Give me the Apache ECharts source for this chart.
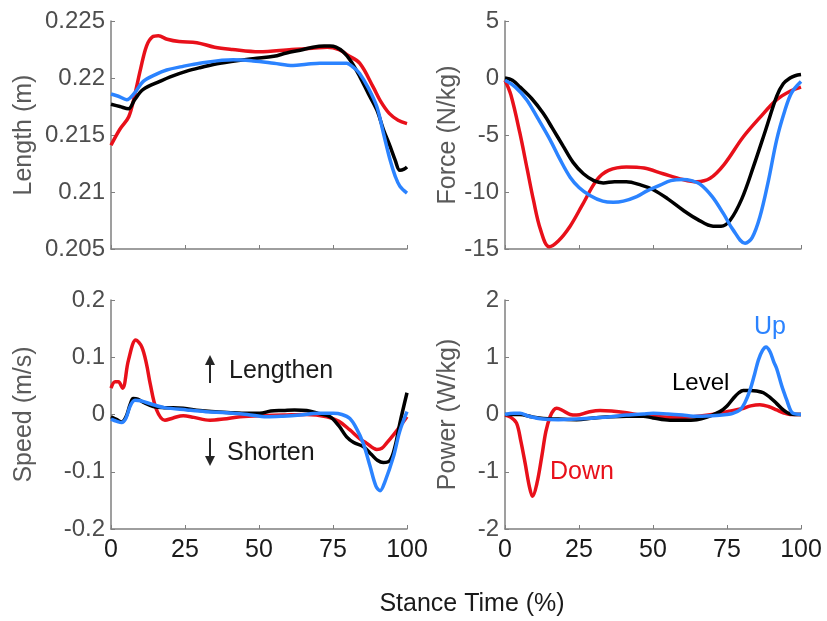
<!DOCTYPE html>
<html><head><meta charset="utf-8">
<script src="https://cdn.jsdelivr.net/npm/echarts@6/dist/echarts.min.js"></script>
<style>html,body{margin:0;padding:0;background:#fff}#c{width:827px;height:621px}</style>
</head><body><div id="c"></div>
<script>
// ---- data ----
const xTicks = [0, 25, 50, 75, 100];
const panelTitles = ['Length (m)', 'Force (N/kg)', 'Speed (m/s)', 'Power (W/kg)'];
const groupNames = ['Down', 'Level', 'Up'];

const lengthDown = [[0,0.2141],[3,0.2155],[6,0.2166],[8,0.2185],[10,0.2208],[12,0.2228],[14,0.2236],[16,0.2237],[19,0.2234],[23,0.2232],[29,0.2231],[35,0.2227],[41,0.2225],[50,0.2223],[61,0.2225],[68,0.2226],[73,0.2227],[77,0.2225],[80,0.2220],[84,0.2213],[88.6,0.2192],[91,0.2180],[94,0.2169],[97,0.2163],[100,0.2160]];
const lengthLevel = [[0,0.2177],[3,0.2175],[5.9,0.2173],[8,0.2181],[10.9,0.2190],[16.5,0.2197],[20,0.2201],[25.6,0.2206],[30,0.2209],[36.8,0.2213],[48,0.2217],[55,0.2219],[59.3,0.2222],[65,0.2225],[68.2,0.2227],[72,0.2228],[74,0.2228],[76,0.2227],[78.4,0.2223],[81,0.2215],[84.1,0.2201],[87,0.2186],[89.8,0.2172],[92,0.2155],[94.3,0.2140],[96,0.2128],[97.6,0.2119],[99,0.2120],[100,0.2122]];
const lengthUp = [[0,0.2186],[2.5,0.2184],[5.3,0.2181],[8,0.2187],[10.9,0.2197],[15,0.2203],[18.8,0.2207],[24,0.2210],[30,0.2213],[41.3,0.2216],[48,0.2215],[55,0.2213],[61.5,0.2211],[66,0.2212],[70.6,0.2213],[76,0.2213],[79.6,0.2213],[82,0.2209],[84,0.2204],[87,0.2191],[89.8,0.2175],[92,0.2152],[94.3,0.2128],[96,0.2114],[97.6,0.2105],[100,0.2099]];

const forceDown = [[0,-0.2],[2,-1.5],[5,-4.8],[7.5,-8],[9.6,-10.7],[12,-13.3],[14.9,-14.8],[18,-14.3],[22,-13.0],[26,-11.2],[31,-8.95],[35,-8.1],[41,-7.8],[47,-7.9],[53.4,-8.4],[60,-8.9],[64.8,-9.1],[69.3,-8.8],[74,-7.6],[80.4,-5.2],[86,-3.5],[91.8,-1.9],[96,-1.2],[100,-0.8]];
const forceLevel = [[0,0],[2.5,-0.2],[5.1,-0.8],[9,-1.8],[12.9,-3.1],[16,-4.4],[19.7,-6.0],[23,-7.4],[26.5,-8.4],[30,-9.0],[33.2,-9.2],[37,-9.1],[41,-9.1],[46,-9.4],[50.1,-9.8],[55,-10.6],[60.2,-11.6],[65,-12.4],[70.3,-13.0],[73,-13.0],[76,-12.5],[80,-10.6],[83.9,-7.8],[88,-4.6],[91.8,-1.6],[94,-0.5],[96.3,0],[98,0.2],[100,0.3]];
const forceUp = [[0,-0.2],[3.5,-0.8],[7.3,-1.9],[11,-3.5],[15.2,-5.4],[18.5,-7.1],[22,-8.7],[25,-9.6],[28.7,-10.3],[33,-10.8],[36.6,-10.9],[40,-10.8],[44.5,-10.4],[48,-9.9],[52.4,-9.4],[56,-9.0],[60.2,-8.9],[63,-9.0],[65.9,-9.3],[70,-10.4],[73.8,-11.9],[77,-13.3],[81.1,-14.5],[83.5,-14.0],[86.1,-12.2],[89,-9.0],[91.8,-5.4],[94.5,-2.9],[96.8,-1.3],[100,-0.3]];

const speedDown = [[0,0.046],[1.4,0.057],[2.5,0.057],[3.9,0.046],[5.9,0.095],[8.4,0.130],[10.4,0.118],[12,0.088],[13.2,0.055],[15.4,0.008],[18.2,-0.010],[21,-0.006],[24.4,-0.002],[28,-0.005],[33.4,-0.010],[38,-0.008],[43.6,-0.004],[50,-0.002],[58.2,-0.001],[66,0.0],[72.9,-0.004],[77,-0.012],[80.7,-0.027],[84,-0.042],[86.3,-0.050],[89.8,-0.061],[91.5,-0.059],[93.1,-0.050],[95.5,-0.035],[97.6,-0.021],[100,-0.004]];
const speedLevel = [[0,-0.004],[2,-0.009],[3.6,-0.013],[5,-0.005],[6.5,0.018],[7.5,0.028],[9,0.027],[11,0.021],[14.3,0.014],[18,0.012],[24.4,0.011],[30,0.007],[41.3,0.003],[46,0.002],[50.3,0.002],[54,0.006],[58.2,0.007],[62,0.008],[66.1,0.007],[70,0.002],[74,-0.004],[77,-0.020],[79.6,-0.039],[82,-0.049],[85.2,-0.056],[88,-0.070],[90,-0.080],[92,-0.084],[94.3,-0.080],[96,-0.055],[97.6,-0.015],[100,0.038]];
const speedUp = [[0,-0.008],[2,-0.012],[3.6,-0.014],[5,-0.007],[6.5,0.015],[8.1,0.025],[10,0.024],[14.3,0.017],[18,0.012],[25.6,0.008],[32,0.005],[39.1,0.003],[46,0.0],[52.6,-0.004],[58,-0.003],[63.9,-0.001],[70,0.002],[75.1,0.002],[78,0.0],[80.7,-0.007],[83,-0.025],[85.2,-0.050],[87.5,-0.090],[89.5,-0.125],[90.9,-0.133],[92.5,-0.118],[95.4,-0.074],[97.5,-0.030],[100,0.005]];

const powerDown = [[0,-0.01],[2,-0.05],[3.9,-0.15],[5.3,-0.45],[6.8,-0.85],[8.2,-1.25],[9.3,-1.43],[10.8,-1.2],[12.4,-0.74],[13.8,-0.3],[15.2,-0.04],[16.5,0.08],[17.5,0.11],[19.5,0.07],[22,0.0],[24.2,-0.01],[28,0.04],[32.1,0.07],[36,0.06],[41.1,0.03],[46,-0.01],[52.4,-0.04],[58,-0.05],[63.6,-0.04],[70,0.0],[74.9,0.05],[80,0.1],[83,0.15],[86.1,0.17],[89,0.14],[91.8,0.08],[94,0.03],[96.3,0.0],[100,0.0]];
const powerLevel = [[0,0],[5,0],[9,-0.04],[12.9,-0.07],[18,-0.08],[24.2,-0.09],[30,-0.06],[35.5,-0.04],[41,-0.03],[46.7,-0.03],[50,-0.06],[55.7,-0.1],[60,-0.1],[64.8,-0.09],[68,-0.05],[72.6,0.05],[75,0.15],[77.1,0.28],[79,0.38],[80.5,0.42],[83,0.42],[85,0.41],[87.3,0.38],[89.5,0.3],[91.8,0.19],[94,0.08],[96.3,0.01],[100,0]];
const powerUp = [[0,0],[3,0.02],[5.1,0.02],[8,-0.03],[12.9,-0.08],[18,-0.09],[24.2,-0.08],[30,-0.06],[35.5,-0.04],[41,-0.01],[46.7,0.01],[50.1,0.02],[55,0.01],[60,-0.01],[63.6,-0.03],[70,-0.02],[74.9,0.0],[77,0.02],[79.4,0.08],[81,0.2],[82.8,0.43],[84.3,0.7],[85.6,0.95],[87,1.12],[88.2,1.18],[89.5,1.1],[90.8,0.92],[91.8,0.8],[93.5,0.5],[95.2,0.25],[96.5,0.07],[97.4,0.02],[100,0]];

const yRanges = [[0.205, 0.225, 0.005], [-15, 5, 5], [-0.2, 0.2, 0.1], [-2, 2, 1]];

// ---- chart ----
const FONT = "'Liberation Sans', Arial, sans-serif";
const colors = ['#E8101A', '#000000', '#2B83FF'];
const panels = [
  [lengthDown, lengthLevel, lengthUp],
  [forceDown, forceLevel, forceUp],
  [speedDown, speedLevel, speedUp],
  [powerDown, powerLevel, powerUp]
];
const grids = [
  {left: 111, top: 21, width: 296, height: 228},
  {left: 505, top: 21, width: 296, height: 228},
  {left: 111, top: 300, width: 296, height: 229},
  {left: 505, top: 300, width: 296, height: 229}
];
const nameGaps = [74, 42, 74, 44];
const axisColor = '#7f7f7f';

const xAxis = grids.map((g, i) => ({
  type: 'value', gridIndex: i, min: xTicks[0], max: xTicks[xTicks.length - 1], interval: 25,
  axisLine: {onZero: false, lineStyle: {color: axisColor, width: 1.5}},
  axisTick: {inside: true, length: 4, lineStyle: {color: axisColor}},
  axisLabel: {show: i >= 2, color: '#1a1a1a', fontSize: 25, fontFamily: FONT, margin: 9},
  splitLine: {show: false}
}));
const yAxis = grids.map((g, i) => ({
  type: 'value', gridIndex: i, min: yRanges[i][0], max: yRanges[i][1], interval: yRanges[i][2],
  name: panelTitles[i], nameLocation: 'middle', nameGap: nameGaps[i],
  nameTextStyle: {color: '#5a5a5a', fontSize: 25, fontFamily: FONT},
  axisLine: {show: true, onZero: false, lineStyle: {color: axisColor, width: 1.5}},
  axisTick: {show: true, inside: true, length: 4, lineStyle: {color: axisColor}},
  axisLabel: {color: '#4d4d4d', fontSize: 24, fontFamily: FONT, margin: 6,
    formatter: v => String(parseFloat(v.toFixed(3)))},
  splitLine: {show: false}
}));
const series = [];
panels.forEach((p, i) => {
  p.forEach((d, k) => {
    series.push({
      type: 'line', name: groupNames[k], xAxisIndex: i, yAxisIndex: i, data: d,
      smooth: 0.35, showSymbol: false, symbol: 'none',
      lineStyle: {color: colors[k], width: 3.5}, z: 2 + k
    });
  });
});

const txt = (x, y, s, color, size, align) => ({
  type: 'text', x: x, y: y,
  style: {text: s, fill: color, font: size + 'px ' + FONT, textAlign: align || 'left', textVerticalAlign: 'middle'}
});
// vertical arrow: tip at y1, tail at y2
const arrow = (x, y1, y2) => {
  const dir = y2 > y1 ? 1 : -1;
  return {
    type: 'group', children: [
      {type: 'line', shape: {x1: x, y1: y1 + dir * 4, x2: x, y2: y2}, style: {stroke: '#262626', lineWidth: 2}},
      {type: 'polygon', shape: {points: [[x, y1], [x - 5, y1 + dir * 10], [x + 5, y1 + dir * 10]]}, style: {fill: '#262626'}}
    ]
  };
};

const chart = echarts.init(document.getElementById('c'), null, {renderer: 'canvas'});
chart.setOption({
  animation: false,
  backgroundColor: '#fff',
  grid: grids,
  xAxis: xAxis,
  yAxis: yAxis,
  series: series,
  graphic: [
    txt(472, 604, 'Stance Time (%)', '#1a1a1a', 25, 'center'),
    arrow(210, 355, 383),
    txt(229, 371, 'Lengthen', '#1a1a1a', 25),
    arrow(210, 466, 438),
    txt(227, 453, 'Shorten', '#1a1a1a', 25),
    txt(672, 383, groupNames[1], '#000000', 24),
    txt(754, 327, groupNames[2], colors[2], 25),
    txt(550, 472, groupNames[0], colors[0], 25)
  ]
});
</script></body></html>
